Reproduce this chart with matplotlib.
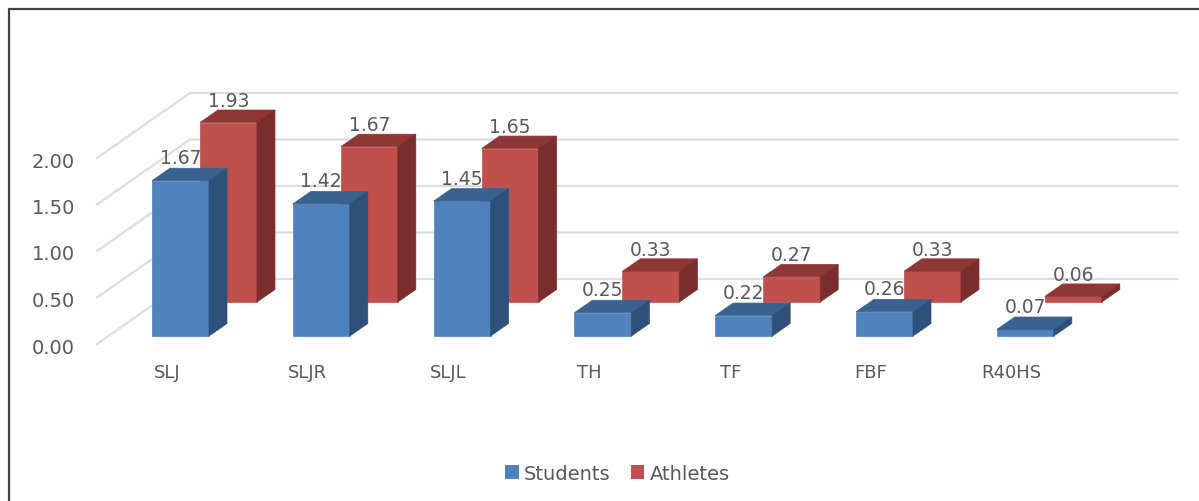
import matplotlib
matplotlib.use('Agg')
import matplotlib.pyplot as plt
from matplotlib.patches import Patch, Polygon

categories = ['SLJ', 'SLJR', 'SLJL', 'TH', 'TF', 'FBF', 'R40HS']
students = [1.67, 1.42, 1.45, 0.25, 0.22, 0.26, 0.07]
athletes = [1.93, 1.67, 1.65, 0.33, 0.27, 0.33, 0.06]
y_ticks = [0.0, 0.5, 1.0, 1.5, 2.0]

W, H = 1199, 502
PX_X = 140.8   # pixels per category
PX_Y = 93.0    # pixels per unit value
X0_PX = 180.5  # first blue bar centre
Y0_PX = 345    # value 0 on the front edge

# sizes in data units, taken from pixel measures
BAR_W = 57 / PX_X
DEPTH_X = 18 / PX_X
DEPTH_Y = 12.5 / PX_Y
FLOOR_S = 8 / PX_Y
FLOOR_A = 42 / PX_Y
SHIFT_A = 48 / PX_X
WALL_DX = 93 / PX_X
WALL_DY = 65 / PX_Y
WALL_LEFT = (97 - X0_PX) / PX_X
WALL_RIGHT = (1177 - X0_PX) / PX_X

BLUE = ('#4F81BD', '#3A6290', '#2F5078')
RED = ('#C0504D', '#8F3735', '#7A2E2C')
TEXT = '#595959'
GRID = '#DDDDDD'

fig = plt.figure(figsize=(W / 100, H / 100), dpi=100)
ax = fig.add_axes([0, 0, 1, 1])
ax.set_xlim(-X0_PX / PX_X, (W - X0_PX) / PX_X)
ax.set_ylim((Y0_PX - H) / PX_Y, Y0_PX / PX_Y)
ax.axis('off')


def bar3d(xc, floor, value, colors, zorder):
    left, right = xc - BAR_W / 2, xc + BAR_W / 2
    bottom, top = floor, floor + value
    front = [(left, bottom), (right, bottom), (right, top), (left, top)]
    roof = [(left, top), (right, top), (right + DEPTH_X, top + DEPTH_Y), (left + DEPTH_X, top + DEPTH_Y)]
    side = [(right, bottom), (right + DEPTH_X, bottom + DEPTH_Y), (right + DEPTH_X, top + DEPTH_Y), (right, top)]
    for pts, col in zip((front, roof, side), colors):
        ax.add_patch(Polygon(pts, closed=True, facecolor=col, edgecolor=col, lw=0.5, zorder=zorder))


# back wall and side wall lines
for t in y_ticks:
    ax.plot([WALL_LEFT, WALL_LEFT + WALL_DX, WALL_RIGHT], [t, t + WALL_DY, t + WALL_DY],
            color=GRID, lw=1.6, zorder=1)
    ax.text((75 - X0_PX) / PX_X, t - 3 / PX_Y, f'{t:.2f}', ha='right', va='center', fontsize=14, color=TEXT)

for i, (s, a) in enumerate(zip(students, athletes)):
    bar3d(i + SHIFT_A, FLOOR_A, a, RED, 2)
    bar3d(i, FLOOR_S, s, BLUE, 3)
    ax.text(i, FLOOR_S + s + 23 / PX_Y, f'{s:.2f}', ha='center', va='center',
            fontsize=13.5, color=TEXT, zorder=5)
    ax.text(i + SHIFT_A, FLOOR_A + a + 22 / PX_Y, f'{a:.2f}', ha='center', va='center',
            fontsize=13.5, color=TEXT, zorder=5)
    ax.text(i - 13.5 / PX_X, (Y0_PX - 373) / PX_Y, categories[i], ha='center', va='center',
            fontsize=13, color=TEXT)

# chart border, only top and left show
ax.plot([9 / W, 9 / W, 1], [0, 1 - 10 / H, 1 - 10 / H], transform=ax.transAxes,
        color='#404040', lw=1.6, zorder=6, clip_on=False)

handles = [Patch(facecolor=BLUE[0], label='Students'), Patch(facecolor=RED[0], label='Athletes')]
leg = fig.legend(handles=handles, loc='center', bbox_to_anchor=(617.5 / W, 1 - 474 / H), ncol=2,
                 frameon=False, fontsize=14, labelcolor=TEXT, handlelength=0.7, handleheight=0.7,
                 handletextpad=0.26, columnspacing=1.03)

fig.savefig('out.png', dpi=100, facecolor='white')
